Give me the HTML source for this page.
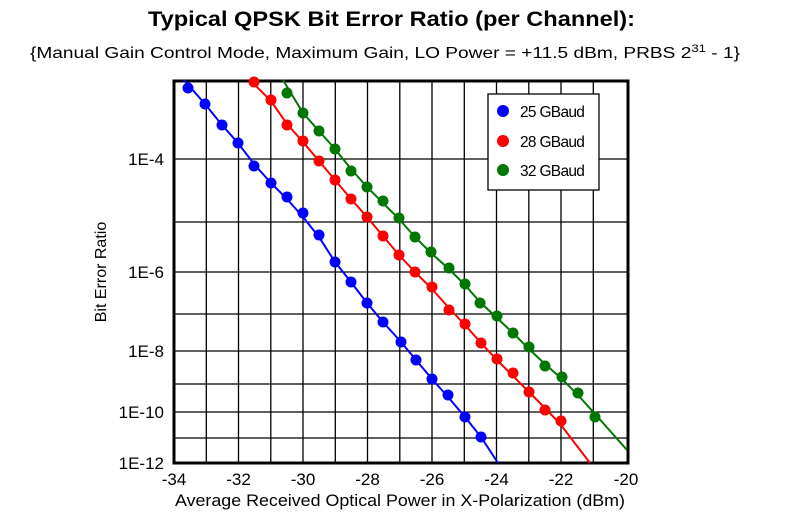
<!DOCTYPE html>
<html><head><meta charset="utf-8"><style>
body{margin:0;background:#fff;width:811px;height:516px;overflow:hidden}
svg text{font-family:"Liberation Sans",Arial,sans-serif}
</style></head><body>
<svg width="811" height="516" xmlns="http://www.w3.org/2000/svg">
<text x="148" y="26" font-size="21" font-weight="bold" textLength="487" lengthAdjust="spacingAndGlyphs">Typical QPSK Bit Error Ratio (per Channel):</text>
<text x="30" y="58" font-size="16" textLength="710" lengthAdjust="spacingAndGlyphs">{Manual Gain Control Mode, Maximum Gain, LO Power = +11.5 dBm, PRBS 2<tspan font-size="11" dy="-6">31</tspan><tspan dy="6"> - 1}</tspan></text>
<g stroke="#000" stroke-width="1.3">
<line x1="206.3" y1="81" x2="206.3" y2="463"/><line x1="238.5" y1="81" x2="238.5" y2="463"/><line x1="270.8" y1="81" x2="270.8" y2="463"/><line x1="303" y1="81" x2="303" y2="463"/><line x1="335.3" y1="81" x2="335.3" y2="463"/><line x1="367.5" y1="81" x2="367.5" y2="463"/><line x1="399.8" y1="81" x2="399.8" y2="463"/><line x1="432" y1="81" x2="432" y2="463"/><line x1="464.3" y1="81" x2="464.3" y2="463"/><line x1="496.5" y1="81" x2="496.5" y2="463"/><line x1="528.8" y1="81" x2="528.8" y2="463"/><line x1="561" y1="81" x2="561" y2="463"/><line x1="593.3" y1="81" x2="593.3" y2="463"/>
<line x1="174" y1="159" x2="628" y2="159"/><line x1="174" y1="222" x2="628" y2="222"/><line x1="174" y1="272" x2="628" y2="272"/><line x1="174" y1="314" x2="628" y2="314"/><line x1="174" y1="351" x2="628" y2="351"/><line x1="174" y1="384" x2="628" y2="384"/><line x1="174" y1="412" x2="628" y2="412"/><line x1="174" y1="438" x2="628" y2="438"/>
</g>
<rect x="174" y="81" width="454" height="382" fill="none" stroke="#000" stroke-width="3"/>
<g font-size="17" text-anchor="end">
<text x="164" y="165">1E-4</text><text x="164" y="278">1E-6</text><text x="164" y="357">1E-8</text><text x="164" y="418">1E-10</text><text x="164" y="469">1E-12</text>
</g>
<g font-size="17" text-anchor="middle">
<text x="174" y="485">-34</text><text x="238.5" y="485">-32</text><text x="303" y="485">-30</text><text x="367.5" y="485">-28</text><text x="432" y="485">-26</text><text x="496.5" y="485">-24</text><text x="561" y="485">-22</text><text x="626" y="485">-20</text>
</g>
<text x="175" y="506" font-size="17" textLength="450" lengthAdjust="spacingAndGlyphs">Average Received Optical Power in X-Polarization (dBm)</text>
<text transform="translate(106,272) rotate(-90)" text-anchor="middle" font-size="16">Bit Error Ratio</text>
<g fill="none" stroke-width="2">
<polyline stroke="#0000ff" points="184,80 205,104 222,125 238,143 254,164 271,183 287,199 303,217 319,237 335,262 351,282 367,303 383,322 401,342 416,360 432,379 448,397 465,417 481,437 498,463"/>
<polyline stroke="#ff0000" points="250,80 271,101 287,124 303,142 319,161 335,180 351,199 367,217 383,236 399,255 415,272 432,289 449,308 465,325 481,343 497,360 513,376 529,392 545,408 561,425 590,463"/>
<polyline stroke="#007700" points="283,80 303,113 319,131 335,149 351,169 367,187 383,203 399,219 415,237 431,253 449,269 465,285 480,302 497,318 513,333 529,349 545,364 562,379 578,395 595,414 627,450"/>
</g>
<g fill="#0000ff"><circle cx="188" cy="88" r="5.5"/><circle cx="205" cy="104" r="5.5"/><circle cx="222" cy="125" r="5.5"/><circle cx="238" cy="143" r="5.5"/><circle cx="254" cy="166" r="5.5"/><circle cx="271" cy="183" r="5.5"/><circle cx="287" cy="197" r="5.5"/><circle cx="303" cy="213" r="5.5"/><circle cx="319" cy="235" r="5.5"/><circle cx="335" cy="262" r="5.5"/><circle cx="351" cy="282" r="5.5"/><circle cx="367" cy="303" r="5.5"/><circle cx="383" cy="322" r="5.5"/><circle cx="401" cy="342" r="5.5"/><circle cx="416" cy="360" r="5.5"/><circle cx="432" cy="379" r="5.5"/><circle cx="448" cy="395" r="5.5"/><circle cx="465" cy="417" r="5.5"/><circle cx="481" cy="437" r="5.5"/></g>
<g fill="#ff0000"><circle cx="254" cy="82" r="5.5"/><circle cx="271" cy="100" r="5.5"/><circle cx="287" cy="125" r="5.5"/><circle cx="303" cy="141" r="5.5"/><circle cx="319" cy="161" r="5.5"/><circle cx="335" cy="180" r="5.5"/><circle cx="351" cy="199" r="5.5"/><circle cx="367" cy="217" r="5.5"/><circle cx="383" cy="236" r="5.5"/><circle cx="399" cy="255" r="5.5"/><circle cx="415" cy="272" r="5.5"/><circle cx="432" cy="287" r="5.5"/><circle cx="449" cy="310" r="5.5"/><circle cx="465" cy="324" r="5.5"/><circle cx="481" cy="343" r="5.5"/><circle cx="497" cy="359" r="5.5"/><circle cx="513" cy="373" r="5.5"/><circle cx="529" cy="392" r="5.5"/><circle cx="545" cy="410" r="5.5"/><circle cx="561" cy="421" r="5.5"/></g>
<g fill="#007700"><circle cx="287" cy="93" r="5.5"/><circle cx="303" cy="113" r="5.5"/><circle cx="319" cy="131" r="5.5"/><circle cx="335" cy="149" r="5.5"/><circle cx="351" cy="171" r="5.5"/><circle cx="367" cy="187" r="5.5"/><circle cx="383" cy="201" r="5.5"/><circle cx="399" cy="218" r="5.5"/><circle cx="415" cy="237" r="5.5"/><circle cx="431" cy="252" r="5.5"/><circle cx="449" cy="268" r="5.5"/><circle cx="465" cy="284" r="5.5"/><circle cx="480" cy="303" r="5.5"/><circle cx="497" cy="316" r="5.5"/><circle cx="513" cy="333" r="5.5"/><circle cx="529" cy="347" r="5.5"/><circle cx="545" cy="366" r="5.5"/><circle cx="562" cy="377" r="5.5"/><circle cx="578" cy="393" r="5.5"/><circle cx="595" cy="417" r="5.5"/></g>
<rect x="488" y="94" width="111" height="96" fill="#fff" stroke="#000" stroke-width="1.3"/>
<circle cx="503" cy="111" r="6" fill="#0000ff"/><circle cx="503" cy="141" r="6" fill="#ff0000"/><circle cx="503" cy="170" r="6" fill="#007700"/>
<g font-size="15.5" letter-spacing="-0.7"><text x="520" y="117">25 GBaud</text><text x="520" y="147">28 GBaud</text><text x="520" y="176">32 GBaud</text></g>
</svg>
</body></html>
